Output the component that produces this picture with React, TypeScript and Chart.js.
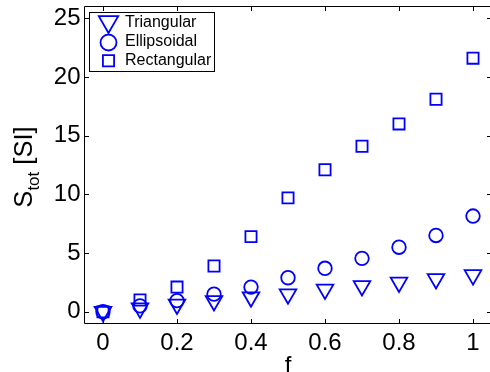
import React, { useEffect, useRef } from "react";
import { Chart, registerables } from "chart.js";

Chart.register(...registerables);

const fValues = [0, 0.1, 0.2, 0.3, 0.4, 0.5, 0.6, 0.7, 0.8, 0.9, 1.0];
const triangular = [0, 0.3, 0.63, 0.92, 1.25, 1.5, 1.9, 2.2, 2.5, 2.8, 3.13];
const ellipsoidal = [0, 0.5, 0.95, 1.5, 2.1, 2.9, 3.7, 4.55, 5.5, 6.5, 8.15];
const rectangular = [0, 1.0, 2.1, 3.9, 6.4, 9.7, 12.1, 14.1, 16.0, 18.1, 21.6];

const seriesLabels = ["Triangular", "Ellipsoidal", "Rectangular"];
const xTickValues = [0, 0.2, 0.4, 0.6, 0.8, 1];
const xTickLabels = ["0", "0.2", "0.4", "0.6", "0.8", "1"];
const yTickValues = [0, 5, 10, 15, 20, 25];
const yTickLabels = ["0", "5", "10", "15", "20", "25"];
const xTitle = "f";
const yTitleMain = "S";
const yTitleSub = "tot";
const yTitleRest = " [SI]";

const BLUE = "#0000ff";
const FONT = '"Liberation Sans", Arial, Helvetica, sans-serif';

const W = 494;
const H = 372;

function drawMarker(ctx: CanvasRenderingContext2D, style: string, r: number, rot: number, x: number, y: number) {
  ctx.beginPath();
  if (style === "triangle") {
    let rad = (rot * Math.PI) / 180;
    ctx.moveTo(x + Math.sin(rad) * r, y - Math.cos(rad) * r);
    rad += (2 * Math.PI) / 3;
    ctx.lineTo(x + Math.sin(rad) * r, y - Math.cos(rad) * r);
    rad += (2 * Math.PI) / 3;
    ctx.lineTo(x + Math.sin(rad) * r, y - Math.cos(rad) * r);
    ctx.closePath();
  } else if (style === "circle") {
    ctx.arc(x, y, r, 0, Math.PI * 2);
  } else {
    const s = Math.SQRT1_2 * r;
    ctx.rect(x - s, y - s, 2 * s, 2 * s);
  }
  ctx.stroke();
}

const framePlugin = {
  id: "frame",
  afterDatasetsDraw(chart: any) {
    const { ctx, chartArea } = chart;
    const { left, right, top, bottom } = chartArea;
    const xs = chart.scales.x;
    const ys = chart.scales.y;
    ctx.save();
    ctx.strokeStyle = "#000";
    ctx.lineWidth = 1;
    ctx.beginPath();
    ctx.rect(left, top, right - left, bottom - top);
    ctx.stroke();
    const tl = 4.5;
    ctx.beginPath();
    xTickValues.forEach((v) => {
      const px = Math.round(xs.getPixelForValue(v)) + 0.5;
      ctx.moveTo(px, bottom);
      ctx.lineTo(px, bottom - tl);
      ctx.moveTo(px, top);
      ctx.lineTo(px, top + tl);
    });
    yTickValues.forEach((v) => {
      const py = Math.round(ys.getPixelForValue(v)) + 0.5;
      ctx.moveTo(left, py);
      ctx.lineTo(left + tl, py);
      ctx.moveTo(right, py);
      ctx.lineTo(right - tl, py);
    });
    ctx.stroke();
    ctx.restore();
  },
  afterDraw(chart: any) {
    const { ctx, chartArea } = chart;
    ctx.save();
    ctx.fillStyle = "#000";
    // x title
    ctx.font = `24px ${FONT}`;
    ctx.textAlign = "center";
    ctx.textBaseline = "alphabetic";
    ctx.fillText(xTitle, (chartArea.left + chartArea.right) / 2, 372.5);
    // y title
    ctx.save();
    ctx.translate(31.5, 167);
    ctx.rotate(-Math.PI / 2);
    ctx.textAlign = "left";
    const mainFont = `25.5px ${FONT}`;
    const subFont = `17px ${FONT}`;
    ctx.font = mainFont;
    const wS = ctx.measureText(yTitleMain).width;
    const wR = ctx.measureText(yTitleRest).width;
    ctx.font = subFont;
    const wSub = ctx.measureText(yTitleSub).width;
    const total = wS + wSub + wR;
    const x0 = -total / 2;
    ctx.font = mainFont;
    ctx.fillText(yTitleMain, x0, 0);
    ctx.font = subFont;
    ctx.fillText(yTitleSub, x0 + wS, 7);
    ctx.font = mainFont;
    ctx.fillText(yTitleRest, x0 + wS + wSub, 0);
    ctx.restore();

    // legend
    const bx = 89.5, by = 12.5, bw = 125, bh = 59;
    ctx.fillStyle = "#fff";
    ctx.fillRect(bx, by, bw, bh);
    ctx.strokeStyle = "#000";
    ctx.lineWidth = 1;
    ctx.strokeRect(bx, by, bw, bh);
    const mx = 108.5;
    const rows = [
      { style: "triangle", rot: 180, r: 11.2, my: 21.8, ty: 22.7 },
      { style: "circle", rot: 0, r: 8, my: 42.5, ty: 41.7 },
      { style: "rect", rot: 0, r: 7.9, my: 60.8, ty: 60.7 },
    ];
    chart.data.datasets.forEach((ds: any, i: number) => {
      const row = rows[i];
      ctx.save();
      ctx.strokeStyle = BLUE;
      ctx.lineWidth = 1.8;
      drawMarker(ctx, row.style, row.r, row.rot, mx, row.my);
      ctx.restore();
      ctx.fillStyle = "#000";
      ctx.font = `16px ${FONT}`;
      ctx.textAlign = "left";
      ctx.textBaseline = "middle";
      ctx.fillText(ds.label, 125, row.ty);
    });
    ctx.restore();
  },
};

export default function App() {
  const ref = useRef<HTMLCanvasElement | null>(null);
  useEffect(() => {
    if (!ref.current) return;
    const mk = (vals: number[]) => fValues.map((f, i) => ({ x: f, y: vals[i] }));
    const common = {
      showLine: false,
      borderColor: BLUE,
      backgroundColor: "rgba(0,0,0,0)",
      pointBorderWidth: 1.8,
      pointHoverRadius: 0,
    };
    const chart = new Chart(ref.current, {
      type: "scatter",
      data: {
        datasets: [
          { ...common, label: seriesLabels[0], data: mk(triangular), pointStyle: "triangle", rotation: 180, pointRadius: 9.6 },
          { ...common, label: seriesLabels[1], data: mk(ellipsoidal), pointStyle: "circle", pointRadius: 6.8 },
          { ...common, label: seriesLabels[2], data: mk(rectangular), pointStyle: "rect", pointRadius: 7.9 },
        ] as any,
      },
      options: {
        responsive: false,
        animation: false,
        devicePixelRatio: 1,
        layout: { autoPadding: false, padding: { left: 0, right: W - 491.5, top: 6.5, bottom: 0 } },
        plugins: { legend: { display: false }, tooltip: { enabled: false } },
        events: [],
        scales: {
          x: {
            type: "linear",
            min: -0.05,
            max: 1.05,
            grid: { display: false, drawTicks: false, tickLength: 0 },
            border: { display: false },
            afterBuildTicks: (s: any) => {
              s.ticks = xTickValues.map((v) => ({ value: v }));
            },
            afterFit: (s: any) => {
              s.height = H - 323.5;
              s.paddingLeft = 0;
              s.paddingRight = 0;
            },
            ticks: {
              color: "#000",
              font: { family: FONT, size: 24 },
              padding: 5,
              maxRotation: 0,
              autoSkip: false,
              callback: (v: any, i: number) => xTickLabels[i],
            },
          },
          y: {
            type: "linear",
            min: -1,
            max: 26,
            grid: { display: false, drawTicks: false, tickLength: 0 },
            border: { display: false },
            afterBuildTicks: (s: any) => {
              s.ticks = yTickValues.map((v) => ({ value: v }));
            },
            afterFit: (s: any) => {
              s.width = 84.5;
              s.paddingTop = 0;
              s.paddingBottom = 0;
            },
            ticks: {
              color: "#000",
              font: { family: FONT, size: 24 },
              padding: 4,
              autoSkip: false,
              callback: (v: any, i: number) => yTickLabels[i],
            },
          },
        },
      } as any,
      plugins: [framePlugin],
    });
    return () => chart.destroy();
  }, []);
  return (
    <div style={{ position: "absolute", left: 0, top: 0, width: 490, height: H, overflow: "hidden", background: "#fff" }}>
      <canvas ref={ref} width={W} height={H} style={{ width: W, height: H, display: "block" }} />
    </div>
  );
}
